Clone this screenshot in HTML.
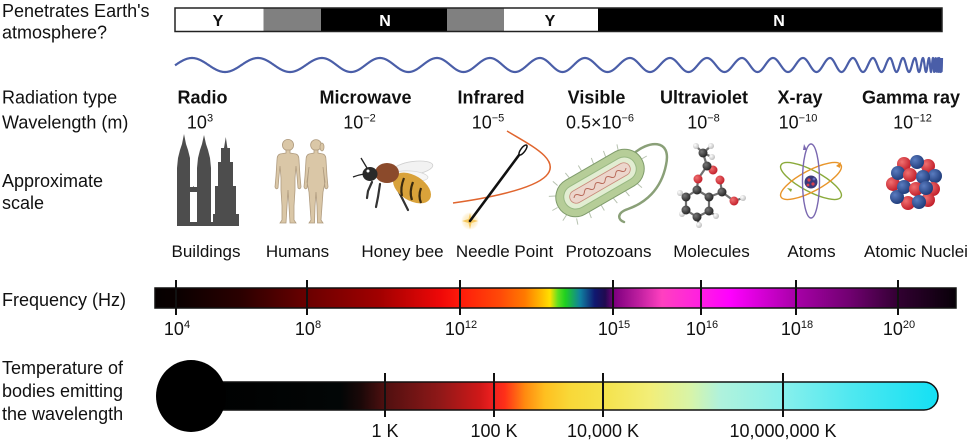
<!DOCTYPE html>
<html><head><meta charset="utf-8">
<style>
html,body{margin:0;padding:0;background:#fff;}
svg{display:block;}
text{font-family:"Liberation Sans",Arial,sans-serif;fill:#111;}
</style></head>
<body>
<svg width="967" height="443" viewBox="0 0 967 443" xmlns="http://www.w3.org/2000/svg">
<defs>
<linearGradient id="freq" gradientUnits="userSpaceOnUse" x1="155" y1="0" x2="956" y2="0">
<stop offset="0" stop-color="#050000"/>
<stop offset="0.026" stop-color="#0a0000"/>
<stop offset="0.106" stop-color="#2a0000"/>
<stop offset="0.19" stop-color="#6a0000"/>
<stop offset="0.281" stop-color="#a20000"/>
<stop offset="0.356" stop-color="#ee0808"/>
<stop offset="0.381" stop-color="#ff1a0a"/>
<stop offset="0.431" stop-color="#ff4a08"/>
<stop offset="0.462" stop-color="#ff7a00"/>
<stop offset="0.484" stop-color="#ffc000"/>
<stop offset="0.493" stop-color="#ffe000"/>
<stop offset="0.503" stop-color="#60e020"/>
<stop offset="0.512" stop-color="#20d020"/>
<stop offset="0.531" stop-color="#1080a0"/>
<stop offset="0.549" stop-color="#101870"/>
<stop offset="0.562" stop-color="#200a50"/>
<stop offset="0.574" stop-color="#800080"/>
<stop offset="0.605" stop-color="#c020a0"/>
<stop offset="0.633" stop-color="#ff40c0"/>
<stop offset="0.68" stop-color="#ff20e0"/>
<stop offset="0.718" stop-color="#ff00ff"/>
<stop offset="0.80" stop-color="#a800a8"/>
<stop offset="0.868" stop-color="#700070"/>
<stop offset="0.93" stop-color="#300030"/>
<stop offset="1" stop-color="#080008"/>
</linearGradient>
<linearGradient id="temp" gradientUnits="userSpaceOnUse" x1="191" y1="0" x2="938" y2="0">
<stop offset="0" stop-color="#000"/>
<stop offset="0.2" stop-color="#020606"/>
<stop offset="0.227" stop-color="#1a0808"/>
<stop offset="0.26" stop-color="#501010"/>
<stop offset="0.334" stop-color="#901818"/>
<stop offset="0.387" stop-color="#d01818"/>
<stop offset="0.405" stop-color="#f02020"/>
<stop offset="0.42" stop-color="#ff3018"/>
<stop offset="0.447" stop-color="#ff8a10"/>
<stop offset="0.474" stop-color="#ffc020"/>
<stop offset="0.507" stop-color="#f8d838"/>
<stop offset="0.551" stop-color="#f5e24a"/>
<stop offset="0.614" stop-color="#f2ee78"/>
<stop offset="0.668" stop-color="#d8f4a8"/>
<stop offset="0.708" stop-color="#b0f2dc"/>
<stop offset="0.792" stop-color="#88f0ec"/>
<stop offset="0.882" stop-color="#50e8f0"/>
<stop offset="1" stop-color="#14e0f4"/>
</linearGradient>
<radialGradient id="bb" cx="0.35" cy="0.35" r="0.7"><stop offset="0" stop-color="#5a7cc0"/><stop offset="1" stop-color="#1e3a78"/></radialGradient>
<radialGradient id="rb" cx="0.35" cy="0.35" r="0.7"><stop offset="0" stop-color="#f07070"/><stop offset="1" stop-color="#c01c28"/></radialGradient>
<radialGradient id="db" cx="0.35" cy="0.35" r="0.7"><stop offset="0" stop-color="#777"/><stop offset="1" stop-color="#222"/></radialGradient>
<radialGradient id="wb" cx="0.35" cy="0.35" r="0.7"><stop offset="0" stop-color="#fff"/><stop offset="1" stop-color="#bbb"/></radialGradient>
<radialGradient id="spark" cx="0.5" cy="0.5" r="0.5"><stop offset="0" stop-color="#fff3c0"/><stop offset="1" stop-color="#f8c860" stop-opacity="0"/></radialGradient>
</defs>

<!-- Left labels -->
<text x="2" y="17" font-size="18">Penetrates Earth's</text>
<text x="2" y="38.5" font-size="18">atmosphere?</text>
<text x="2" y="103.5" font-size="18">Radiation type</text>
<text x="2" y="128.5" font-size="18">Wavelength (m)</text>
<text x="2" y="187" font-size="18">Approximate</text>
<text x="2" y="209" font-size="18">scale</text>
<text x="2" y="306" font-size="18">Frequency (Hz)</text>
<text x="2" y="374" font-size="18">Temperature of</text>
<text x="2" y="397" font-size="18">bodies emitting</text>
<text x="2" y="420" font-size="18">the wavelength</text>

<!-- Y/N bar -->
<rect x="175" y="8" width="88.5" height="23.5" fill="#fff"/>
<rect x="263.5" y="8" width="57.5" height="23.5" fill="#808080"/>
<rect x="321" y="8" width="126" height="23.5" fill="#000"/>
<rect x="447" y="8" width="57" height="23.5" fill="#808080"/>
<rect x="504" y="8" width="94" height="23.5" fill="#fff"/>
<rect x="598" y="8" width="344" height="23.5" fill="#000"/>
<rect x="175" y="8" width="767" height="23.5" fill="none" stroke="#222" stroke-width="1.5"/>
<text x="218" y="26" font-size="16" font-weight="bold" text-anchor="middle">Y</text>
<text x="385" y="26" font-size="16" font-weight="bold" text-anchor="middle" style="fill:#fff">N</text>
<text x="550" y="26" font-size="16" font-weight="bold" text-anchor="middle">Y</text>
<text x="779" y="26" font-size="16" font-weight="bold" text-anchor="middle" style="fill:#fff">N</text>

<!-- Wave -->
<path id="wave" d="M175,65" fill="none" stroke="#4a5ea8" stroke-width="2.2" stroke-linejoin="round"/>

<!-- Radiation names -->
<g font-size="18" font-weight="bold" text-anchor="middle">
<text x="202.5" y="103.5">Radio</text>
<text x="365.5" y="103.5">Microwave</text>
<text x="491" y="103.5">Infrared</text>
<text x="596.5" y="103.5">Visible</text>
<text x="704" y="103.5">Ultraviolet</text>
<text x="800" y="103.5">X-ray</text>
<text x="911" y="103.5">Gamma ray</text>
</g>
<g font-size="18" text-anchor="middle">
<text x="200" y="128.5">10<tspan font-size="11" dy="-7">3</tspan></text>
<text x="359.5" y="128.5">10<tspan font-size="11" dy="-7">−2</tspan></text>
<text x="488" y="128.5">10<tspan font-size="11" dy="-7">−5</tspan></text>
<text x="600" y="128.5">0.5×10<tspan font-size="11" dy="-7">−6</tspan></text>
<text x="703.5" y="128.5">10<tspan font-size="11" dy="-7">−8</tspan></text>
<text x="798" y="128.5">10<tspan font-size="11" dy="-7">−10</tspan></text>
<text x="912.5" y="128.5">10<tspan font-size="11" dy="-7">−12</tspan></text>
</g>

<!-- Buildings -->
<g fill="#4d4d4d">
<polygon points="177,226 177,168 178,158 180,150 182,144 184,134 186,144 188,150 190,158 190,168 190,226"/>
<polygon points="197,226 197,168 198,158 200,150 202,144 204,135 206,144 208,150 210,158 211,168 211,226"/>
<rect x="189" y="187" width="9" height="5"/>
<polygon points="190,192 193.5,186 197,192 196,192 193.5,188 191,192"/>
<polygon points="213,226 213,214 215,214 215,186 218,186 218,162 221,162 221,148 224,148 225.8,137 227.4,148 230,148 230,162 233,162 233,186 236,186 236,214 239,214 239,226"/>
<rect x="177" y="222" width="62" height="4"/>
</g>

<!-- Humans -->
<g fill="#dac7a7" stroke="#b09c80" stroke-width="0.8">
<circle cx="288" cy="145" r="5.6"/>
<path d="M286,150 L290,150 L290,153 L296,154 Q299,155 299,160 L300,176 L301,187 Q300,190 298,188 L297,176 L296,166 L295,178 L295,190 L294,206 L294,220 L296,223 L290,223 L289,206 L288,190 L287,206 L286,223 L280,223 L282,220 L282,206 L281,190 L281,178 L280,166 L279,176 L278,188 Q276,190 275,187 L276,176 L277,160 Q277,155 280,154 L286,153 Z"/>
<circle cx="316" cy="145" r="5.4"/>
<ellipse cx="322" cy="147" rx="2" ry="4"/>
<path d="M314,150 L318,150 L318,153 L323,154 Q326,155 326,160 L327,176 L328,187 Q327,190 325,188 L324,176 L323,167 L325,182 L323,192 L322,206 L321,220 L323,223 L317.5,223 L317,206 L316,192 L315,206 L314.5,223 L309,223 L311,220 L310,206 L309,192 L307,182 L309,167 L308,176 L307,188 Q305,190 304,187 L305,176 L306,160 Q306,155 309,154 L314,153 Z"/>
</g>

<!-- Honey bee -->
<g>
<ellipse cx="413" cy="168" rx="20" ry="6.5" transform="rotate(-8 413 168)" fill="#f2f2f2" stroke="#cfcfcf" stroke-width="0.8"/>
<ellipse cx="411" cy="176" rx="17" ry="5" transform="rotate(5 411 176)" fill="#f6f6f6" stroke="#d6d6d6" stroke-width="0.8"/>
<g stroke="#333" stroke-width="2.2" stroke-linecap="round" fill="none">
<path d="M372,182 L368,191 L367,198"/>
<path d="M380,184 L378,197 L376,207"/>
<path d="M398,190 L404,202 L408,210"/>
</g>
<ellipse cx="412" cy="188" rx="21" ry="12.5" transform="rotate(32 412 188)" fill="#d9a23a"/>
<g stroke="#3a2a10" stroke-width="2.2" fill="none">
<path d="M404,178 Q400,188 402,196"/>
<path d="M413,182 Q409,192 412,200"/>
<path d="M421,188 Q418,196 421,203"/>
</g>
<ellipse cx="387" cy="173" rx="12" ry="10" fill="#8b4a2b"/>
<ellipse cx="370" cy="174" rx="7.5" ry="7" fill="#2a2a2a"/>
<circle cx="368" cy="171" r="1.5" fill="#fff"/>
<g stroke="#222" stroke-width="1.3" fill="none">
<path d="M367,168 Q364,163 361,158"/>
<path d="M364,174 Q358,175 353,177"/>
</g>
</g>

<!-- Needle -->
<circle cx="470" cy="221" r="9" fill="url(#spark)"/>
<path d="M470,213 L471.5,219 L478,221 L471.5,223 L470,229 L468.5,223 L462,221 L468.5,219 Z" fill="#f6c860"/>
<path d="M507,131 C530,145 562,160 546,176 C532,190 482,199 453,203" fill="none" stroke="#e0652e" stroke-width="1.5"/>
<line x1="470" y1="221" x2="525" y2="147" stroke="#111" stroke-width="2.6" stroke-linecap="round"/>
<ellipse cx="523" cy="150" rx="2.2" ry="6" transform="rotate(37 523 150)" fill="#fff" stroke="#111" stroke-width="1.5"/>

<!-- Protozoan -->
<path d="M632,155 C648,140 672,138 666,165 C661,190 645,203 628,209 C616,213 618,220 624,222" fill="none" stroke="#8aa078" stroke-width="2.5" stroke-linecap="round"/>
<g transform="translate(600,183) rotate(-30)">
<g stroke="#b7c2b0" stroke-width="1">
<line x1="-38" y1="-19" x2="-40" y2="-25"/><line x1="-24" y1="-20" x2="-25" y2="-26"/><line x1="-10" y1="-20" x2="-10" y2="-26"/><line x1="4" y1="-20" x2="5" y2="-26"/><line x1="18" y1="-20" x2="19" y2="-26"/><line x1="32" y1="-19" x2="34" y2="-25"/>
<line x1="-38" y1="19" x2="-40" y2="25"/><line x1="-24" y1="20" x2="-25" y2="26"/><line x1="-10" y1="20" x2="-10" y2="26"/><line x1="4" y1="20" x2="5" y2="26"/><line x1="18" y1="20" x2="19" y2="26"/><line x1="32" y1="19" x2="34" y2="25"/>
<line x1="-49" y1="0" x2="-55" y2="0"/><line x1="-45" y1="-11" x2="-51" y2="-14"/><line x1="-45" y1="11" x2="-51" y2="14"/><line x1="48" y1="0" x2="54" y2="0"/>
</g>
<rect x="-48" y="-19.5" width="96" height="39" rx="19.5" fill="#b6cd98" stroke="#7f9b6b" stroke-width="1"/>
<rect x="-40" y="-12" width="80" height="24" rx="12" fill="#e2edd2" stroke="#98b882" stroke-width="1"/>
<rect x="-34" y="-6.5" width="68" height="13" rx="6.5" fill="#ecd6cc" stroke="#c88a7a" stroke-width="0.8"/>
<path d="M-30,0 q3,-4 6,0 t6,0 t6,0 t6,0 t6,0 t6,0 t6,0 t6,0 t6,0 t6,0" fill="none" stroke="#b86a5a" stroke-width="1"/>
</g>

<!-- Molecule -->
<g stroke="#707070" stroke-width="2.2">
<line x1="703" y1="153" x2="707" y2="166"/>
<line x1="707" y1="166" x2="698" y2="179"/>
<line x1="698" y1="179" x2="697" y2="190"/>
<line x1="697" y1="190" x2="686" y2="197"/>
<line x1="686" y1="197" x2="686" y2="210"/>
<line x1="686" y1="210" x2="697" y2="217"/>
<line x1="697" y1="217" x2="709" y2="211"/>
<line x1="709" y1="211" x2="709" y2="197"/>
<line x1="709" y1="197" x2="697" y2="190"/>
<line x1="709" y1="197" x2="722" y2="192"/>
<line x1="722" y1="192" x2="720" y2="180"/>
<line x1="722" y1="192" x2="734" y2="201"/>
<line x1="734" y1="201" x2="743" y2="198"/>
<line x1="707" y1="166" x2="713" y2="170"/>
<line x1="686" y1="197" x2="680" y2="193"/>
<line x1="686" y1="210" x2="682" y2="214"/>
<line x1="697" y1="217" x2="699" y2="225"/>
<line x1="709" y1="211" x2="716" y2="216"/>
<line x1="703" y1="153" x2="696" y2="146"/>
<line x1="703" y1="153" x2="711" y2="146"/>
<line x1="703" y1="153" x2="712" y2="157"/>
</g>
<g>
<circle cx="696" cy="146" r="3" fill="url(#wb)"/><circle cx="711" cy="146" r="3" fill="url(#wb)"/><circle cx="712" cy="157" r="3" fill="url(#wb)"/>
<circle cx="703" cy="153" r="4.5" fill="url(#db)"/>
<circle cx="713" cy="170" r="4.5" fill="url(#rb)"/>
<circle cx="707" cy="166" r="4.5" fill="url(#db)"/>
<circle cx="698" cy="179" r="4.5" fill="url(#rb)"/>
<circle cx="680" cy="193" r="3" fill="url(#wb)"/><circle cx="682" cy="214" r="3" fill="url(#wb)"/><circle cx="699" cy="225" r="3" fill="url(#wb)"/><circle cx="716" cy="216" r="3" fill="url(#wb)"/>
<circle cx="697" cy="190" r="4.5" fill="url(#db)"/>
<circle cx="686" cy="197" r="4.5" fill="url(#db)"/>
<circle cx="686" cy="210" r="4.5" fill="url(#db)"/>
<circle cx="697" cy="217" r="4.5" fill="url(#db)"/>
<circle cx="709" cy="211" r="4.5" fill="url(#db)"/>
<circle cx="709" cy="197" r="4.5" fill="url(#db)"/>
<circle cx="720" cy="180" r="4.5" fill="url(#rb)"/>
<circle cx="722" cy="192" r="4.5" fill="url(#db)"/>
<circle cx="734" cy="201" r="4.5" fill="url(#rb)"/>
<circle cx="743" cy="198" r="3" fill="url(#wb)"/>
</g>

<!-- Atom -->
<g fill="none" stroke-width="1.4">
<ellipse cx="811" cy="181" rx="34" ry="10.5" transform="rotate(28 811 181)" stroke="#8aaa3a"/>
<ellipse cx="811" cy="181" rx="34" ry="10.5" transform="rotate(-28 811 181)" stroke="#e8952a"/>
<ellipse cx="811" cy="181" rx="8.5" ry="37" stroke="#7a68b0"/>
</g>
<path d="M836,166 l5,-4 l-1,6 z" fill="#e8952a"/>
<path d="M803,150 l1,-6 l3,6 z" fill="#7a68b0"/>
<path d="M792,189 l-5,-1 l4,4 z" fill="#8aaa3a"/>
<circle cx="811" cy="182" r="6.5" fill="#3a3a7a"/>
<circle cx="809" cy="180" r="1.6" fill="#d84050"/><circle cx="813" cy="184" r="1.6" fill="#d84050"/><circle cx="814" cy="179" r="1.4" fill="#6a70c0"/><circle cx="808" cy="185" r="1.4" fill="#d84050"/>

<!-- Atomic nucleus -->
<g>
<circle cx="904" cy="164" r="7" fill="url(#rb)"/>
<circle cx="928" cy="166" r="7" fill="url(#rb)"/>
<circle cx="917" cy="162" r="7" fill="url(#bb)"/>
<circle cx="935" cy="176" r="7" fill="url(#bb)"/>
<circle cx="893" cy="184" r="7" fill="url(#rb)"/>
<circle cx="898" cy="173" r="7" fill="url(#bb)"/>
<circle cx="910" cy="175" r="7" fill="url(#rb)"/>
<circle cx="923" cy="177" r="7" fill="url(#bb)"/>
<circle cx="933" cy="189" r="7" fill="url(#rb)"/>
<circle cx="908" cy="203" r="7" fill="url(#rb)"/>
<circle cx="897" cy="197" r="7" fill="url(#bb)"/>
<circle cx="928" cy="200" r="7" fill="url(#rb)"/>
<circle cx="904" cy="187" r="7" fill="url(#bb)"/>
<circle cx="916" cy="189" r="7" fill="url(#rb)"/>
<circle cx="919" cy="202" r="7" fill="url(#bb)"/>
<circle cx="926" cy="188" r="7" fill="url(#bb)"/>
</g>

<!-- Scale labels -->
<g font-size="17" text-anchor="middle">
<text x="206" y="257">Buildings</text>
<text x="297.5" y="257">Humans</text>
<text x="402.5" y="257">Honey bee</text>
<text x="504.5" y="257">Needle Point</text>
<text x="608.5" y="257">Protozoans</text>
<text x="711.5" y="257">Molecules</text>
<text x="811.5" y="257">Atoms</text>
<text x="916" y="257">Atomic Nuclei</text>
</g>

<!-- Frequency bar -->
<rect x="155" y="288" width="801" height="20" fill="url(#freq)" stroke="#111" stroke-width="1.5"/>
<g stroke="#111" stroke-width="2">
<line x1="176" y1="280" x2="176" y2="315"/>
<line x1="307" y1="280" x2="307" y2="315"/>
<line x1="460" y1="280" x2="460" y2="315"/>
<line x1="613" y1="280" x2="613" y2="315"/>
<line x1="701" y1="280" x2="701" y2="315"/>
<line x1="796" y1="280" x2="796" y2="315"/>
<line x1="898" y1="280" x2="898" y2="315"/>
</g>
<g font-size="18" text-anchor="middle">
<text x="177" y="335">10<tspan font-size="11" dy="-7">4</tspan></text>
<text x="308" y="335">10<tspan font-size="11" dy="-7">8</tspan></text>
<text x="461" y="335">10<tspan font-size="11" dy="-7">12</tspan></text>
<text x="614" y="335">10<tspan font-size="11" dy="-7">15</tspan></text>
<text x="702" y="335">10<tspan font-size="11" dy="-7">16</tspan></text>
<text x="797" y="335">10<tspan font-size="11" dy="-7">18</tspan></text>
<text x="899" y="335">10<tspan font-size="11" dy="-7">20</tspan></text>
</g>

<!-- Temperature bar -->
<path d="M191,382 L924,382 A14,14 0 0 1 924,410 L191,410 Z" fill="url(#temp)" stroke="#111" stroke-width="1.5"/>
<ellipse cx="191" cy="396" rx="35" ry="36" fill="#000"/>
<g stroke="#111" stroke-width="2">
<line x1="385" y1="373" x2="385" y2="417"/>
<line x1="494" y1="373" x2="494" y2="417"/>
<line x1="603" y1="373" x2="603" y2="417"/>
<line x1="783" y1="373" x2="783" y2="417"/>
</g>
<g font-size="18" text-anchor="middle">
<text x="385" y="437">1 K</text>
<text x="494" y="437">100 K</text>
<text x="603" y="437">10,000 K</text>
<text x="783" y="437">10,000,000 K</text>
</g>
</svg>
<script>
(function(){
var c=[192,258,322,380,437,490,540,585,630,670,707,742,773,803,830,853,873,890,903,915,923,929,933,935.5,937.5,939,940.3,941.3,942];
function ph(x){
 if(x<c[0]) return (x-c[0])/66;
 for(var i=0;i<c.length-1;i++){ if(x<c[i+1]) return i+(x-c[i])/(c[i+1]-c[i]); }
 return c.length-1;
}
var d="",first=true;
for(var x=175;x<=942.001;x+=0.2){
 var y=65-7*Math.cos(2*Math.PI*ph(x));
 d+=(first?"M":"L")+x.toFixed(2)+","+y.toFixed(2);
 first=false;
}
document.getElementById("wave").setAttribute("d",d);
})();
</script>
</body></html>
